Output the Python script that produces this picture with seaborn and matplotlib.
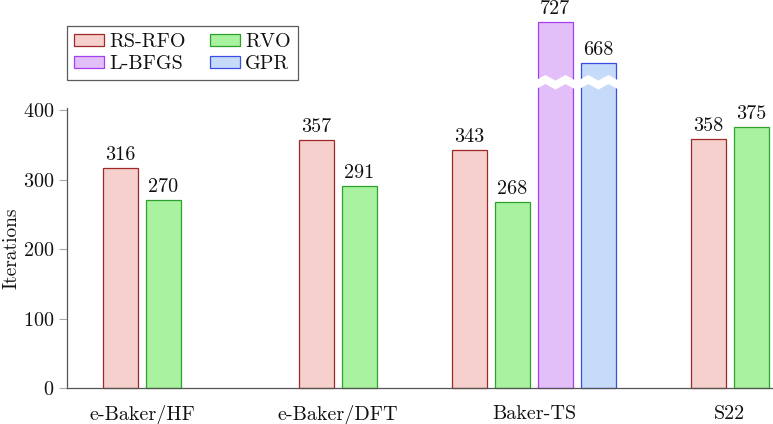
import numpy as np
import pandas as pd
import matplotlib
matplotlib.use("Agg")
import matplotlib.pyplot as plt
import matplotlib.patches as mpatches
import seaborn as sns

# data
groups = ["e-Baker/HF", "e-Baker/DFT", "Baker-TS", "S22"]
methods = ["RS-RFO", "RVO", "L-BFGS", "GPR"]
rs_rfo = [316, 357, 343, 358]
rvo = [270, 291, 268, 375]
lbfgs = [None, None, 727, None]
gpr = [None, None, 668, None]

fills = {"RS-RFO": "#f5d0cc", "RVO": "#a8f2a0", "L-BFGS": "#e2bff9", "GPR": "#c6dafa"}
edges = {"RS-RFO": "#a02828", "RVO": "#2ea02e", "L-BFGS": "#a53ff0", "GPR": "#3a4ee6"}

break_at = 440     # values above this are drawn with a broken axis
break_shift = 200  # amount cut out of the tall bars
pitch = 0.2194     # bar slot width in group units

# long-form table, bars centred inside each group
rows = []
series = {"RS-RFO": rs_rfo, "RVO": rvo, "L-BFGS": lbfgs, "GPR": gpr}
for gi, g in enumerate(groups):
    present = [m for m in methods if series[m][gi] is not None]
    for k, m in enumerate(present):
        v = series[m][gi]
        rows.append({
            "group": g,
            "method": m,
            "value": v,
            "shown": v - break_shift if v > break_at else v,
            "xpos": gi + (k - (len(present) - 1) / 2) * pitch,
        })
df = pd.DataFrame(rows)

sns.set_style("white")
plt.rcParams["font.family"] = "serif"
plt.rcParams["font.serif"] = ["cmr10", "DejaVu Serif"]
plt.rcParams["axes.formatter.use_mathtext"] = True
plt.rcParams["mathtext.fontset"] = "cm"
plt.rcParams["text.color"] = "#111111"
plt.rcParams["axes.labelcolor"] = "#111111"
plt.rcParams["ytick.labelcolor"] = "#111111"
plt.rcParams["xtick.labelcolor"] = "#111111"

fs = 14.5

fig = plt.figure(figsize=(7.73, 4.24), dpi=100)
ax = fig.add_axes([67 / 773, 1 - 388 / 424, 1 - 67 / 773, (388 - 108) / 424])

sns.barplot(data=df, x="xpos", y="shown", hue="method", hue_order=methods,
            palette=fills, native_scale=True, dodge=False, width=0.80,
            saturation=1, linewidth=0.9, ax=ax, legend=False)

# per-series edge colours and labels
for cont, m in zip(ax.containers, methods):
    sub = df[df["method"] == m]
    for bar in cont:
        bar.set_edgecolor(edges[m])
        bar.set_clip_on(False)
    ax.bar_label(cont, labels=[str(v) for v in sub["value"]], padding=3,
                 fontsize=fs, color="#111111", annotation_clip=False)

# break marks on the tall bars
amp, half = 4, 6.5
for cont, m in zip(ax.containers, methods):
    sub = df[df["method"] == m].reset_index(drop=True)
    for bar, v in zip(cont, sub["value"]):
        if v <= break_at:
            continue
        x0 = bar.get_x() - 0.015
        x1 = bar.get_x() + bar.get_width() + 0.015
        xs = np.linspace(x0, x1, 5)
        offs = np.array([-1, 1, -1, 1, -1]) * amp
        top = break_at + half + offs
        bot = break_at - half + offs
        poly = np.column_stack([np.r_[xs, xs[::-1]], np.r_[top, bot[::-1]]])
        ax.add_patch(mpatches.Polygon(poly, closed=True, facecolor="white",
                                      edgecolor="none", zorder=5, clip_on=False))

ax.set_xlim(-0.383, 3.22)
ax.set_ylim(0, 403)
ax.set_xticks(range(len(groups)))
ax.set_xticklabels(groups, fontsize=fs)
ax.set_yticks([0, 100, 200, 300, 400])
ax.tick_params(axis="y", labelsize=fs, length=6, width=0.8, color="#aaaaaa",
               direction="out", left=True, pad=3)
ax.tick_params(axis="x", length=0, pad=12)
ax.set_xlabel("")
ax.set_ylabel("Iterations", fontsize=14)
ax.yaxis.set_label_coords(-0.066, 0.5)

for s in ["top", "right"]:
    ax.spines[s].set_visible(False)
for s in ["left", "bottom"]:
    ax.spines[s].set_color("#555555")
    ax.spines[s].set_linewidth(0.9)

# legend in row order RS-RFO, RVO / L-BFGS, GPR
order = ["RS-RFO", "L-BFGS", "RVO", "GPR"]
handles = [mpatches.Patch(facecolor=fills[m], edgecolor=edges[m], linewidth=0.9,
                          label=m) for m in order]
leg = fig.legend(handles=handles, ncol=2, loc="upper left",
                 bbox_to_anchor=(67 / 773, 1 - 26 / 424), fontsize=fs,
                 frameon=True, fancybox=False, edgecolor="#333333",
                 handlelength=1.5, handleheight=0.5, columnspacing=1.2,
                 borderpad=0.35, labelspacing=0.2, handletextpad=0.25, borderaxespad=0)
leg.get_frame().set_linewidth(0.9)

fig.savefig("out.png", dpi=100)
